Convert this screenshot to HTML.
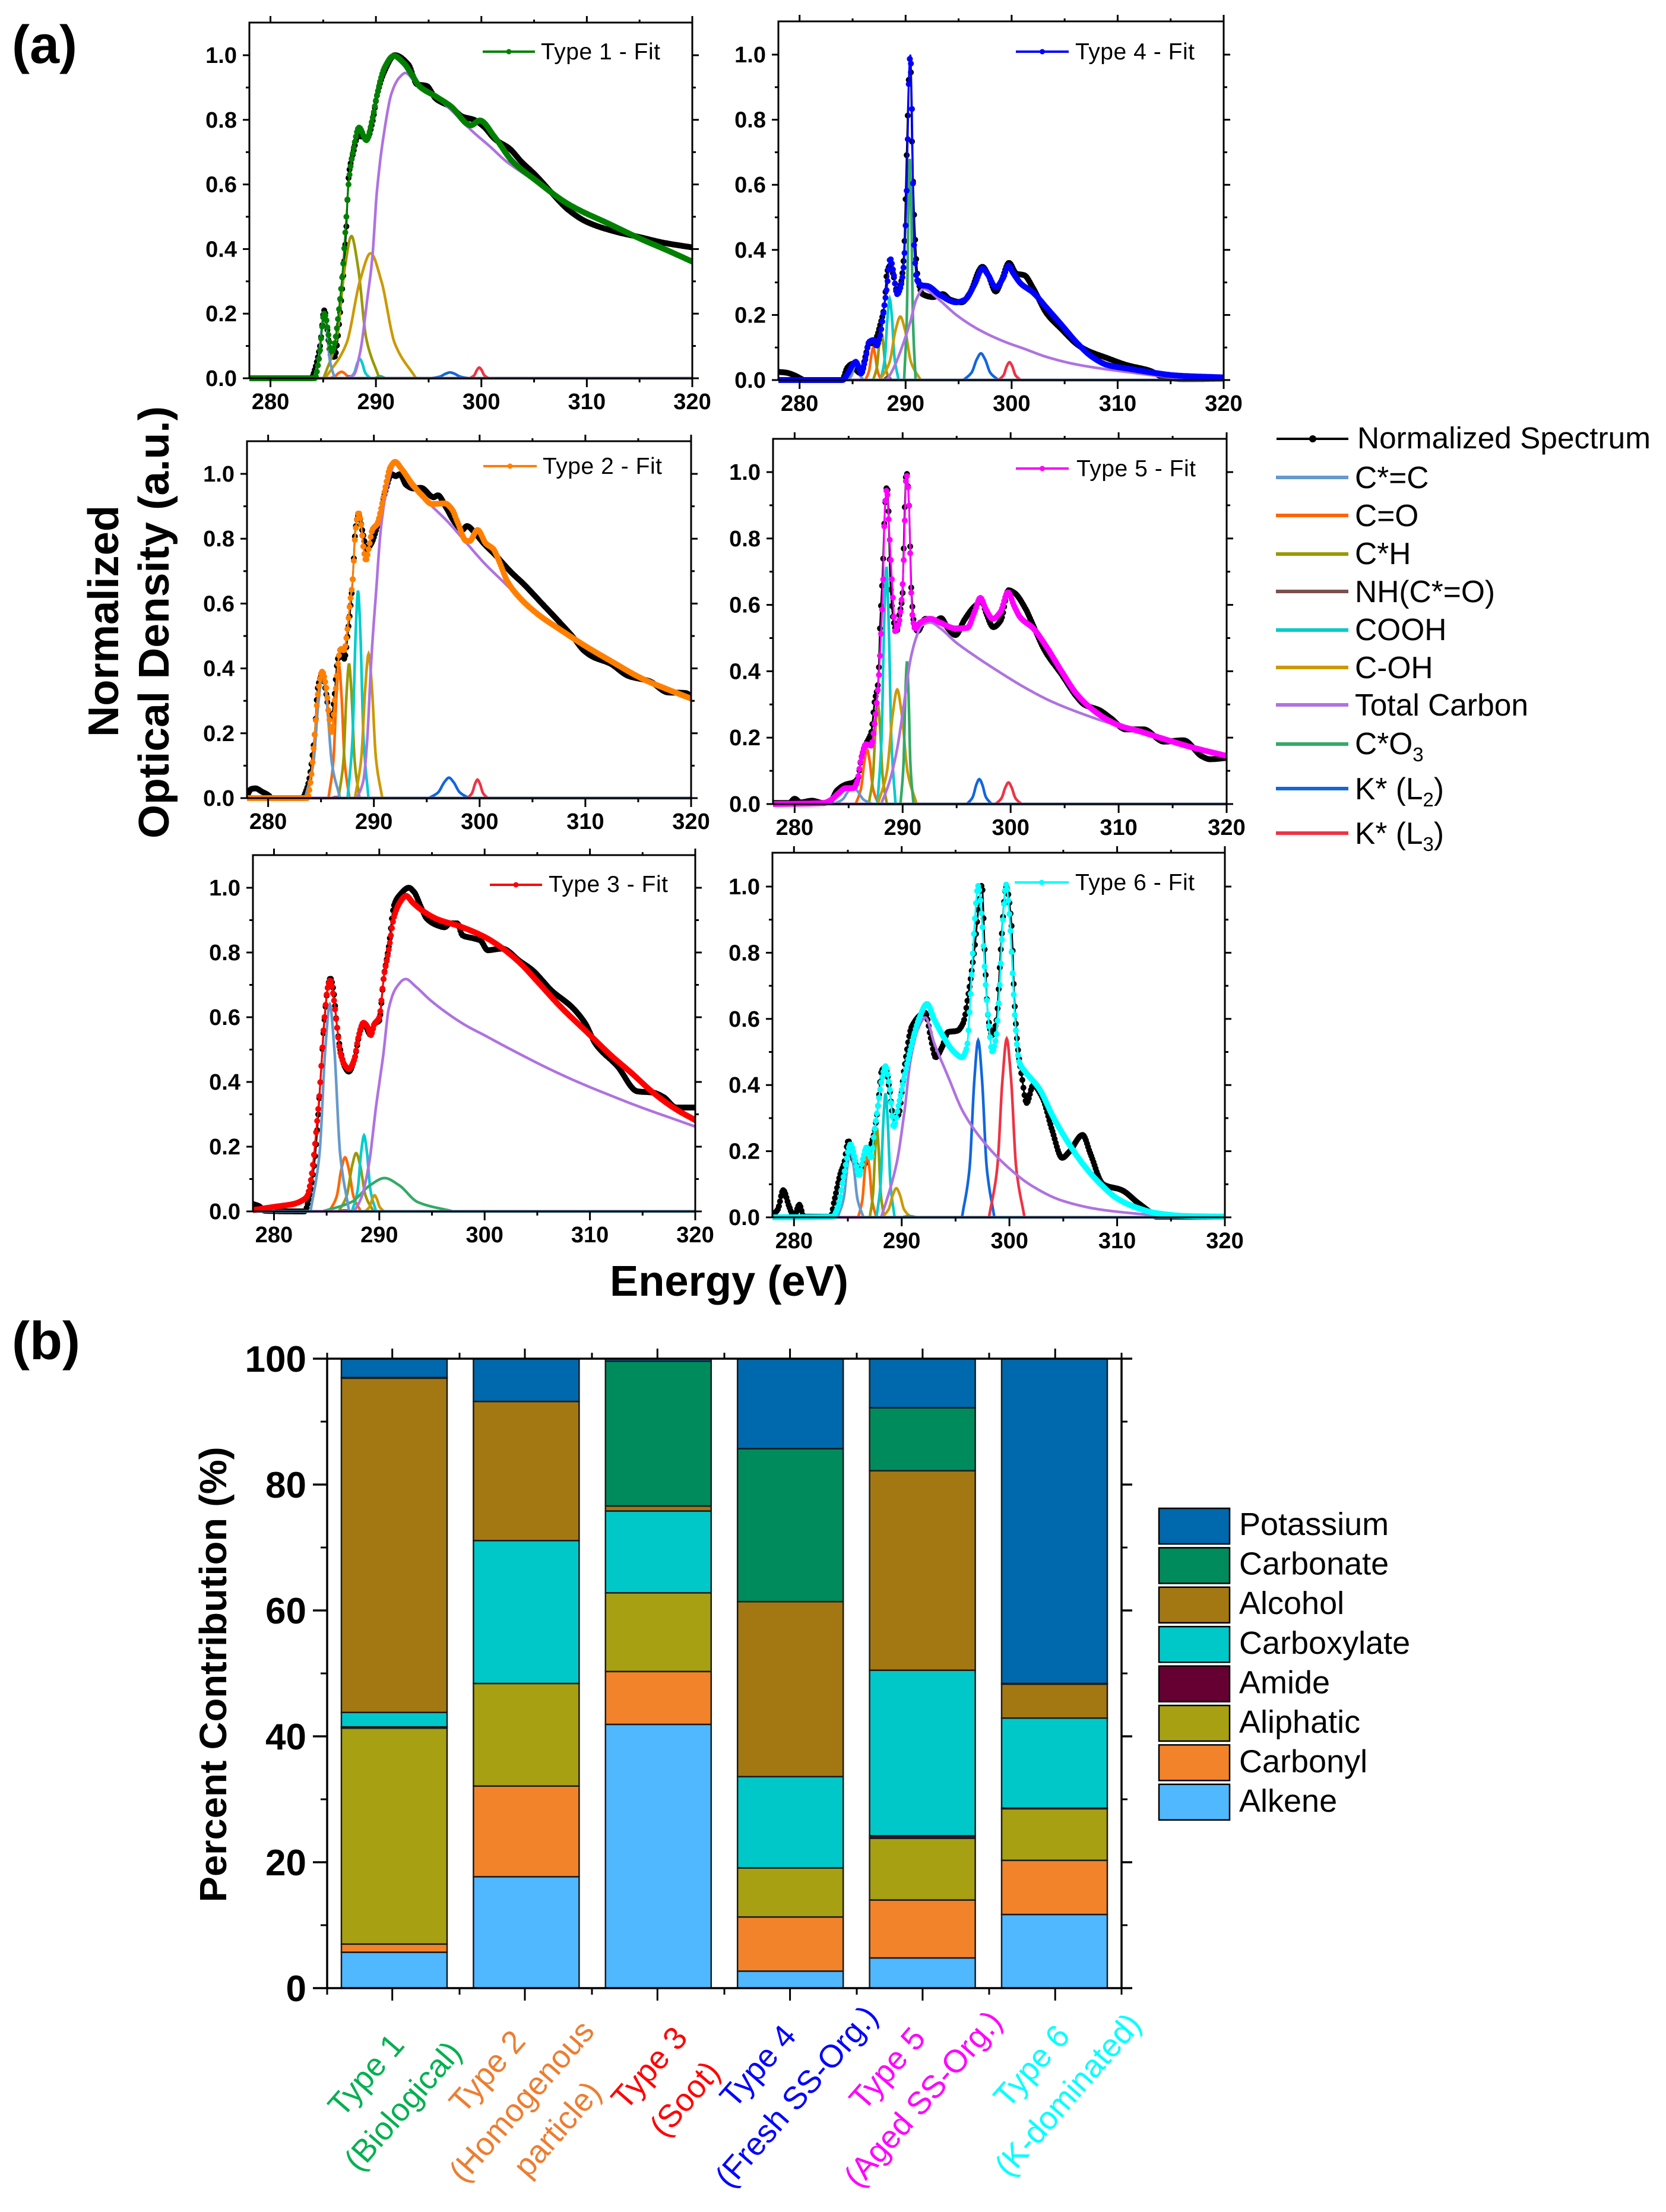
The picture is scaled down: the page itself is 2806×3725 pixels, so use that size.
<!DOCTYPE html>
<html lang="en">
<head>
<meta charset="utf-8">
<title>Spectra fits and percent contribution by particle type</title>
<style>
html,body{margin:0;padding:0;background:#fff;}
svg{display:block;}
text{font-family:"Liberation Sans",sans-serif;fill:#000;}
</style>
</head>
<body>
<svg id="figure" xmlns="http://www.w3.org/2000/svg" width="2806" height="3725" viewBox="0 0 2806 3725">
<rect x="0" y="0" width="2806" height="3725" fill="#fff"/>
<text x="20" y="106" font-size="90" font-weight="bold">(a)</text>
<text x="20" y="2289" font-size="90" font-weight="bold">(b)</text>
<text transform="translate(199 1046) rotate(-90)" text-anchor="middle" font-size="72" font-weight="bold" textLength="390" lengthAdjust="spacingAndGlyphs">Normalized</text>
<text transform="translate(284 1048) rotate(-90)" text-anchor="middle" font-size="72" font-weight="bold" textLength="728" lengthAdjust="spacingAndGlyphs">Optical Density (a.u.)</text>
<text x="1228" y="2182" text-anchor="middle" font-size="72" font-weight="bold" textLength="402" lengthAdjust="spacingAndGlyphs">Energy (eV)</text>
<text transform="translate(381 2820) rotate(-90)" text-anchor="middle" font-size="64" font-weight="bold" textLength="767" lengthAdjust="spacingAndGlyphs">Percent Contribution (%)</text>

<g font-size="51.5">
  <g><line x1="2150" x2="2271" y1="739" y2="739" stroke="#000" stroke-width="4"/><circle cx="2211" cy="739" r="6" fill="#000"/><text x="2286" y="755" font-size="51" textLength="494" lengthAdjust="spacingAndGlyphs">Normalized Spectrum</text></g>
  <g><line x1="2149" x2="2271" y1="804" y2="804" stroke="#6699CC" stroke-width="6"/><text x="2282" y="822">C*=C</text></g>
  <g><line x1="2149" x2="2271" y1="868" y2="868" stroke="#FF6600" stroke-width="6"/><text x="2282" y="886">C=O</text></g>
  <g><line x1="2149" x2="2271" y1="933" y2="933" stroke="#999900" stroke-width="6"/><text x="2282" y="950">C*H</text></g>
  <g><line x1="2149" x2="2271" y1="996" y2="996" stroke="#7B4F4F" stroke-width="6"/><text x="2282" y="1014">NH(C*=O)</text></g>
  <g><line x1="2149" x2="2271" y1="1061" y2="1061" stroke="#00CCCC" stroke-width="6"/><text x="2282" y="1078">COOH</text></g>
  <g><line x1="2149" x2="2271" y1="1124" y2="1124" stroke="#CC9900" stroke-width="6"/><text x="2282" y="1142">C-OH</text></g>
  <g><line x1="2149" x2="2271" y1="1187" y2="1187" stroke="#AF72E0" stroke-width="6"/><text x="2282" y="1205">Total Carbon</text></g>
  <g><line x1="2149" x2="2271" y1="1253" y2="1253" stroke="#33AA66" stroke-width="6"/><text x="2282" y="1270">C*O<tspan font-size="33" dy="12">3</tspan></text></g>
  <g><line x1="2149" x2="2271" y1="1328" y2="1328" stroke="#1166DD" stroke-width="6"/><text x="2282" y="1346">K* (L<tspan font-size="33" dy="12">2</tspan><tspan dy="-12">)</tspan></text></g>
  <g><line x1="2149" x2="2271" y1="1403" y2="1403" stroke="#EE3344" stroke-width="6"/><text x="2282" y="1421">K* (L<tspan font-size="33" dy="12">3</tspan><tspan dy="-12">)</tspan></text></g>
</g>
<g id="panels"></g>
<g id="bars"></g>
</svg>

<script>
/* ---------- Panel (a) axis labels ---------- */
const energyMajorTicks = [280, 290, 300, 310, 320];
const energyMinorTicks = [285, 295, 305, 315];
const densityMajorTicks = [0, 0.2, 0.4, 0.6, 0.8, 1.0];
const densityMinorTicks = [0.1, 0.3, 0.5, 0.7, 0.9];
const energyDomain = [278, 320];

/* ---------- Type 1 ---------- */
const type1Fit = [[278,0],[284.2,0],[284.6,.06],[285.1,.2],[285.84,.083],[286.7,.277],[287.2,.5],[287.4,.6],[287.86,.707],[288.4,.776],[289.1,.737],[289.65,.8],[290.1,.876],[290.8,.96],[291.7,.998],[292.6,.977],[293.5,.935],[294.1,.905],[295.7,.872],[297.1,.842],[299,.783],[299.85,.798],[301.3,.745],[302.9,.673],[305.1,.614],[308.3,.538],[312.3,.475],[315,.433],[317.7,.395],[320,.361]];
const type1Spectrum = [[278,0],[283.9,0],[284.04,.01],[284.7,.1],[285.1,.21],[285.75,.07],[286.06,.066],[286.7,.24],[287.2,.47],[287.4,.62],[287.86,.7],[288.3,.75],[289.2,.745],[289.65,.79],[290.1,.875],[290.8,.95],[291.8,1],[293.1,.97],[293.9,.91],[294.8,.905],[295.7,.865],[297.1,.84],[298.2,.81],[299.3,.8],[300.2,.78],[301.3,.74],[302.7,.71],[303.8,.67],[305.1,.63],[306.5,.58],[308.3,.52],[310,.484],[312.7,.454],[315,.437],[317.2,.42],[320,.405]];
const type1TotalCarbon = [[287.2,0],[287.9,.01],[288.5,.08],[289.2,.25],[289.65,.37],[290.1,.58],[290.8,.766],[291.5,.884],[292.2,.93],[292.8,.945],[293.7,.918],[295.5,.876],[297.3,.825],[299.1,.766],[300.9,.715],[302.3,.673],[305.1,.61],[308.3,.535],[312.3,.473],[315,.431],[317.7,.393],[320,.36]];
const type1Alkene = [[284.11,0],[284.57,.056],[284.87,.157],[285.1,.2],[285.33,.157],[285.63,.056],[286.09,0]];
const type1Carbonyl = [[285.6,0],[286.12,.006],[286.46,.016],[286.73,.02],[287,.016],[287.34,.006],[287.86,0]];
const type1Aliphatic = [[285.04,0],[286.27,.122],[287.06,.345],[287.68,.44],[288.3,.345],[289.09,.122],[290.32,0]];
const type1Amide = [[287.2,0],[287.5,.006],[287.8,0]];
const type1Carboxyl = [[287.48,0],[287.95,.017],[288.24,.047],[288.47,.06],[288.7,.047],[288.99,.017],[289.46,0]];
const type1Alcohol = [[285.2,0],[287.21,.108],[288.5,.303],[289.5,.387],[290.5,.303],[291.79,.108],[293.8,0]];
const type1Carbonate = [[289.9,0],[290.4,.006],[290.9,0]];
const type1PotassiumL2 = [[295.25,0],[296.07,.005],[296.61,.014],[297.03,.018],[297.45,.014],[297.99,.005],[298.81,0]];
const type1PotassiumL3 = [[298.9,0],[299.32,.009],[299.59,.026],[299.8,.033],[300.01,.026],[300.28,.009],[300.7,0]];

/* ---------- Type 2 ---------- */
const type2Fit = [[278,0],[283.7,0],[284.05,.06],[284.4,.196],[284.7,.32],[285.1,.39],[285.5,.34],[285.75,.255],[286,.204],[286.35,.32],[286.7,.44],[286.85,.46],[287.2,.457],[287.45,.507],[287.7,.59],[288,.675],[288.25,.818],[288.55,.88],[288.8,.843],[289,.776],[289.25,.734],[289.5,.768],[289.85,.827],[290.35,.848],[290.7,.894],[291,.944],[291.55,1.02],[292,1.037],[292.6,1.016],[293.6,.97],[294.6,.932],[295.5,.907],[296.7,.909],[297.4,.89],[297.9,.852],[298.75,.793],[299.05,.793],[299.8,.827],[300.6,.785],[301.3,.768],[301.8,.734],[302.65,.667],[303.85,.616],[305.55,.566],[307.6,.52],[310,.469],[312.4,.423],[315.4,.368],[317.8,.335],[320,.307]];
const type2Spectrum = [[278,.007],[278.4,.028],[278.8,.03],[279.4,.02],[280.1,.007],[280.3,0],[283.3,0],[283.4,.007],[283.8,.045],[284.4,.196],[284.7,.34],[285.1,.38],[285.5,.32],[285.75,.263],[286,.246],[286.25,.305],[286.6,.43],[286.95,.44],[287.2,.43],[287.6,.53],[288,.675],[288.25,.827],[288.55,.873],[289,.81],[289.3,.768],[289.75,.785],[290.35,.843],[291,.936],[291.7,.999],[292.05,.993],[292.45,.999],[293.05,.966],[293.75,.955],[294.45,.957],[295.65,.928],[296.05,.934],[296.8,.898],[297.7,.848],[298.35,.827],[298.8,.839],[299.55,.818],[300.4,.785],[301.45,.751],[303,.696],[304.2,.659],[305.9,.6],[307.6,.541],[309,.49],[309.8,.457],[310.7,.436],[312.35,.415],[314.05,.377],[316.1,.36],[317.8,.326],[319.5,.324],[320,.314]];
const type2TotalCarbon = [[288.4,0],[289,.053],[289.35,.17],[289.75,.423],[290.2,.633],[290.7,.843],[291.2,.95],[292,1.03],[293.6,.96],[294.6,.93],[295.5,.9],[297,.852],[298.7,.789],[300.4,.726],[302.65,.654],[303.85,.614],[305.55,.564],[307.6,.518],[310,.467],[312.4,.421],[315.4,.366],[317.8,.333],[320,.305]];
const type2Alkene = [[283.5,0],[284.27,.107],[284.77,.301],[285.15,.385],[285.54,.301],[286.03,.107],[286.8,0]];
const type2Carbonyl = [[285.71,0],[286.17,.114],[286.47,.321],[286.7,.41],[286.93,.321],[287.23,.114],[287.69,0]];
const type2Aliphatic = [[286.66,0],[287.12,.115],[287.42,.325],[287.65,.415],[287.88,.325],[288.18,.115],[288.64,0]];
const type2Amide = [[286,0],[286.4,.003],[286.8,0]];
const type2Carboxyl = [[287.51,0],[287.97,.178],[288.27,.501],[288.5,.64],[288.73,.501],[289.03,.178],[289.49,0]];
const type2Alcohol = [[288.21,0],[288.81,.124],[289.2,.348],[289.5,.445],[289.8,.348],[290.19,.124],[290.79,0]];
const type2PotassiumL2 = [[295.21,0],[296.09,.018],[296.66,.049],[297.1,.063],[297.54,.049],[298.11,.018],[298.99,0]];
const type2PotassiumL3 = [[298.84,0],[299.29,.016],[299.58,.045],[299.8,.057],[300.02,.045],[300.31,.016],[300.76,0]];

/* ---------- Type 3 ---------- */
const type3Fit = [[278,.004],[280,.014],[281.85,.023],[282.7,.034],[283.15,.047],[283.55,.107],[284.05,.262],[284.4,.399],[284.75,.581],[285.1,.691],[285.35,.714],[285.65,.663],[285.95,.581],[286.3,.49],[286.7,.453],[287.1,.44],[287.65,.472],[288,.536],[288.5,.583],[288.85,.572],[289.2,.545],[289.5,.577],[290,.6],[290.4,.718],[290.9,.809],[291.4,.91],[291.95,.955],[292.55,.975],[293.15,.955],[294.15,.928],[295.5,.903],[297.55,.882],[300,.848],[301.65,.814],[303.35,.768],[305.05,.709],[307.1,.636],[310,.545],[311.9,.485],[314,.426],[316,.367],[318.1,.317],[320,.282]];
const type3Spectrum = [[278,.023],[278.6,.016],[279.1,.002],[282.9,0],[283.4,.052],[283.9,.171],[284.4,.399],[284.75,.572],[285.1,.691],[285.35,.72],[285.65,.682],[285.95,.581],[286.3,.499],[286.7,.449],[287.1,.432],[287.65,.472],[288.15,.554],[288.5,.581],[289.2,.545],[289.55,.58],[290,.59],[290.4,.718],[290.9,.818],[291.4,.946],[291.95,.978],[292.8,1],[293.3,.987],[294,.937],[294.5,.905],[295.5,.884],[296.2,.878],[296.7,.89],[297.4,.89],[297.9,.853],[298.9,.844],[299.6,.837],[300.3,.807],[301.65,.812],[303.35,.773],[304.55,.745],[306.4,.681],[308.3,.631],[309.55,.581],[310.55,.517],[312.6,.449],[314.5,.371],[316,.367],[317,.353],[318.2,.321],[320,.321]];
const type3TotalCarbon = [[287.65,.002],[288.3,.043],[289,.143],[289.7,.326],[290.4,.49],[290.9,.627],[291.6,.691],[292.5,.718],[293.45,.695],[294.8,.654],[296.55,.61],[298.25,.574],[300,.544],[301.65,.515],[303.35,.486],[305.4,.452],[307.8,.415],[310,.384],[311.9,.359],[314,.332],[316,.308],[318.1,.284],[320,.262]];
const type3Alkene = [[283.47,0],[284.32,.178],[284.87,.501],[285.3,.64],[285.73,.501],[286.28,.178],[287.13,0]];
const type3Carbonyl = [[285.25,0],[285.95,.046],[286.4,.131],[286.75,.167],[287.1,.131],[287.55,.046],[288.25,0]];
const type3Aliphatic = [[286.15,0],[286.92,.05],[287.42,.141],[287.8,.18],[288.19,.141],[288.68,.05],[289.45,0]];
const type3Amide = [[286,0],[286.7,.003],[287.5,0]];
const type3Carboxyl = [[287.41,0],[287.94,.065],[288.28,.184],[288.55,.235],[288.82,.184],[289.16,.065],[289.69,0]];
const type3Alcohol = [[288.65,0],[289.07,.014],[289.34,.039],[289.55,.05],[289.76,.039],[290.03,.014],[290.45,0]];
const type3Carbonate = [[284.6,0],[287.36,.029],[289.13,.081],[290.5,.103],[291.87,.081],[293.64,.029],[297,0]];

/* ---------- Type 4 ---------- */
const type4Fit = [[278,0],[284.05,0],[284.55,.02],[285,.046],[285.3,.056],[285.55,.042],[285.8,.02],[286.2,.063],[286.55,.117],[287,.123],[287.25,.105],[287.55,.13],[288,.23],[288.25,.289],[288.55,.373],[288.85,.331],[289.2,.264],[289.55,.289],[289.85,.364],[290.1,.582],[290.35,.959],[290.45,1],[290.6,.833],[290.8,.415],[291.1,.306],[291.55,.291],[292.05,.289],[293.3,.26],[294.75,.239],[295.6,.247],[296.55,.297],[297.25,.343],[297.8,.322],[298.5,.285],[299.2,.314],[299.7,.352],[300.1,.331],[300.85,.297],[302.05,.268],[303.3,.222],[304.75,.168],[306.2,.113],[307.6,.071],[309.05,.046],[311.2,.034],[313.3,.023],[315.5,.014],[320,.008]];
const type4Spectrum = [[278,.025],[278.7,.023],[279.55,.014],[280.2,.003],[280.4,0],[284,0],[284.5,.038],[285,.05],[285.4,.029],[285.8,.02],[286.2,.071],[286.55,.113],[287,.113],[287.25,.13],[287.55,.163],[288,.23],[288.25,.331],[288.55,.352],[288.85,.322],[289.2,.272],[289.55,.297],[289.85,.389],[290.1,.691],[290.35,.959],[290.45,1],[290.6,.733],[290.9,.431],[291.15,.314],[291.6,.264],[292.6,.255],[293.5,.264],[294.2,.247],[295.3,.239],[296,.264],[297.25,.348],[297.8,.322],[298.5,.272],[299.05,.306],[299.75,.36],[300.45,.327],[301.2,.322],[302.05,.281],[303.3,.205],[304.75,.155],[306.2,.109],[307.05,.092],[309.05,.067],[310.85,.046],[313,.029],[314.4,.008],[316.2,.003],[320,.004]];
const type4TotalCarbon = [[288.3,.002],[289,.046],[289.7,.105],[290.45,.18],[291,.247],[291.7,.281],[292.25,.272],[293.3,.243],[294.75,.201],[296.9,.155],[299.4,.117],[301.2,.096],[303.3,.071],[305.8,.05],[308.3,.036],[310.85,.025],[315.5,.008],[320,.002]];
const type4Alkene = [[284.55,0],[284.9,.014],[285.13,.039],[285.3,.05],[285.47,.039],[285.7,.014],[286.05,0]];
const type4Carbonyl = [[286.2,0],[286.55,.028],[286.78,.078],[286.95,.1],[287.12,.078],[287.35,.028],[287.7,0]];
const type4Aliphatic = [[286.95,0],[287.3,.042],[287.53,.117],[287.7,.15],[287.87,.117],[288.1,.042],[288.45,0]];
const type4Amide = [[287.9,0],[288.3,.01],[288.7,0]];
const type4Carboxyl = [[287.66,0],[288.05,.07],[288.3,.196],[288.5,.25],[288.7,.196],[288.95,.07],[289.34,0]];
const type4Alcohol = [[287.58,0],[288.48,.054],[289.05,.153],[289.5,.195],[289.95,.153],[290.52,.054],[291.42,0]];
const type4Carbonate = [[289.86,0],[290.11,.189],[290.27,.532],[290.4,.68],[290.53,.532],[290.69,.189],[290.94,0]];
const type4PotassiumL2 = [[295.45,0],[296.22,.023],[296.72,.064],[297.1,.082],[297.49,.064],[297.98,.023],[298.75,0]];
const type4PotassiumL3 = [[298.75,0],[299.24,.015],[299.55,.043],[299.8,.055],[300.05,.043],[300.36,.015],[300.85,0]];

/* ---------- Type 5 ---------- */
const type5Fit = [[278,0],[282.65,.003],[283.35,.012],[284.05,.032],[284.75,.048],[285.45,.048],[285.8,.069],[286.15,.135],[286.6,.18],[287.1,.176],[287.4,.242],[287.75,.365],[288,.513],[288.2,.677],[288.35,.891],[288.55,.948],[288.7,.858],[288.9,.735],[289.15,.595],[289.3,.521],[289.65,.546],[289.95,.636],[290.1,.735],[290.35,.993],[290.6,.899],[290.75,.685],[290.9,.57],[291.15,.529],[291.6,.546],[292.55,.558],[293.5,.546],[294.9,.529],[296,.531],[296.65,.578],[297.2,.621],[297.7,.587],[298.35,.558],[299.05,.578],[299.75,.638],[300.35,.595],[300.9,.562],[302.1,.529],[303.35,.472],[304.75,.398],[306.1,.332],[307.35,.291],[308.95,.254],[310.35,.233],[311.75,.221],[314.2,.196],[316.65,.172],[320,.145]];
const type5Spectrum = [[278,.003],[279.5,.003],[280,.016],[280.55,.005],[281.6,.01],[282.65,.003],[283.35,.01],[283.9,.04],[284.75,.059],[285.45,.065],[285.85,.077],[286.2,.143],[286.6,.18],[287.1,.217],[287.4,.307],[287.75,.373],[287.9,.529],[288.15,.693],[288.35,.882],[288.55,.958],[288.7,.882],[288.85,.677],[289.15,.554],[289.45,.521],[289.7,.57],[290,.636],[290.15,.841],[290.35,1],[290.6,.899],[290.8,.652],[291.05,.546],[291.4,.521],[292.1,.558],[293,.55],[293.55,.56],[294.2,.529],[294.9,.509],[295.7,.554],[296.65,.595],[297.35,.611],[297.7,.578],[298.4,.533],[299.1,.554],[299.8,.644],[300.35,.636],[301.4,.587],[302.1,.537],[303.15,.463],[304.75,.389],[306.1,.324],[306.85,.299],[308.2,.283],[309.3,.258],[310.65,.225],[312.3,.225],[314.2,.188],[316,.192],[317.75,.143],[318.45,.135],[320,.139]];
const type5TotalCarbon = [[288.05,.003],[288.8,.069],[289.5,.168],[290.15,.307],[290.7,.431],[291.2,.496],[291.75,.537],[292.55,.547],[293.5,.529],[294.9,.488],[296.65,.447],[298.75,.402],[301.2,.353],[303.65,.311],[306.45,.274],[308.95,.246],[310.35,.233],[311.75,.22],[314.2,.195],[316.65,.171],[320,.143]];
const type5Alkene = [[283.6,0],[284.44,.014],[284.98,.039],[285.4,.05],[285.82,.039],[286.36,.014],[287.2,0]];
const type5Carbonyl = [[285.65,0],[286.14,.046],[286.46,.129],[286.7,.165],[286.95,.129],[287.26,.046],[287.75,0]];
const type5Aliphatic = [[286.86,0],[287.25,.083],[287.5,.235],[287.7,.3],[287.9,.235],[288.15,.083],[288.54,0]];
const type5Carboxyl = [[287.66,0],[288.05,.199],[288.3,.56],[288.5,.715],[288.7,.56],[288.95,.199],[289.34,0]];
const type5Alcohol = [[287.7,0],[288.54,.096],[289.08,.27],[289.5,.345],[289.92,.27],[290.46,.096],[291.3,0]];
const type5Carbonate = [[289.8,0],[290.08,.12],[290.26,.337],[290.4,.43],[290.54,.337],[290.72,.12],[291,0]];
const type5PotassiumL2 = [[295.96,0],[296.49,.021],[296.83,.059],[297.1,.075],[297.37,.059],[297.71,.021],[298.24,0]];
const type5PotassiumL3 = [[298.6,0],[299.16,.018],[299.52,.051],[299.8,.065],[300.08,.051],[300.44,.018],[301,0]];

/* ---------- Type 6 ---------- */
const type6Fit = [[278,0],[283.6,.002],[284.1,.033],[284.65,.131],[285.25,.221],[285.6,.185],[286.05,.127],[286.4,.176],[286.75,.212],[287.15,.18],[287.45,.256],[287.8,.337],[288.15,.417],[288.5,.457],[288.85,.399],[289.25,.274],[289.7,.337],[290.25,.426],[290.8,.506],[291.65,.604],[292.35,.645],[293.05,.596],[293.95,.542],[294.8,.502],[295.6,.484],[296.05,.515],[296.4,.676],[296.75,.881],[297.1,1.002],[297.45,.899],[297.8,.703],[298.1,.578],[298.4,.502],[298.75,.542],[299.1,.703],[299.4,.899],[299.7,1.006],[300,.917],[300.3,.738],[300.55,.587],[300.9,.471],[301.5,.439],[302.75,.39],[304.1,.301],[305.55,.221],[306.9,.158],[308.35,.104],[310.1,.055],[311.85,.029],[313.6,.013],[316.4,.004],[320,.002]];
const type6Spectrum = [[278,.005],[278.15,.011],[278.5,.024],[279,.082],[279.55,.033],[280,.002],[280.5,.038],[280.9,.002],[283.4,.002],[283.75,.051],[284.3,.131],[284.65,.163],[285.05,.231],[285.5,.176],[286.05,.149],[286.5,.158],[286.9,.194],[287.45,.256],[287.8,.337],[288.15,.444],[288.5,.453],[288.85,.39],[289.25,.301],[289.7,.31],[290.25,.453],[290.95,.578],[292.2,.618],[292.7,.542],[293.15,.484],[293.75,.515],[294.3,.56],[295.15,.564],[295.7,.587],[296.2,.676],[296.75,.81],[297.45,1.004],[297.7,.81],[298,.613],[298.4,.551],[298.8,.596],[299.2,.81],[299.7,.999],[300.2,.881],[300.45,.667],[300.8,.506],[301.15,.426],[301.6,.346],[302.2,.399],[303.05,.363],[303.95,.265],[304.9,.18],[305.55,.198],[306.8,.249],[307.5,.194],[308.7,.1],[310.45,.082],[311.85,.046],[313.25,.011],[313.6,.002],[320,.002]];
const type6TotalCarbon = [[288.15,.006],[288.85,.078],[289.55,.167],[290.25,.319],[290.8,.471],[291.5,.569],[292.2,.604],[293.05,.524],[294.3,.426],[295.7,.319],[297.8,.221],[299.95,.149],[302.05,.096],[304.85,.051],[308.35,.024],[311.85,.011],[315.35,.002]];
const type6Alkene = [[284.05,0],[284.61,.056],[284.97,.157],[285.25,.2],[285.53,.157],[285.89,.056],[286.45,0]];
const type6Carbonyl = [[285.96,0],[286.35,.053],[286.6,.149],[286.8,.19],[287,.149],[287.25,.053],[287.64,0]];
const type6Aliphatic = [[287.04,0],[287.35,.075],[287.55,.211],[287.7,.27],[287.85,.211],[288.05,.075],[288.36,0]];
const type6Carboxyl = [[287.66,0],[288.05,.104],[288.3,.294],[288.5,.375],[288.7,.294],[288.95,.104],[289.34,0]];
const type6Alcohol = [[288.15,0],[288.78,.024],[289.19,.069],[289.5,.088],[289.82,.069],[290.22,.024],[290.85,0]];
const type6Carbonate = [[290,0],[290.7,.004],[291.4,0]];
const type6PotassiumL2 = [[295.6,0],[296.3,.149],[296.75,.419],[297.1,.535],[297.45,.419],[297.9,.149],[298.6,0]];
const type6PotassiumL3 = [[298.1,0],[298.87,.15],[299.37,.423],[299.75,.54],[300.14,.423],[300.63,.15],[301.4,0]];

/* ---------- Panel (b) data ---------- */
const barCategories = ['Type 1','Type 2','Type 3','Type 4','Type 5','Type 6'];
const alkeneShare = [5.7,17.7,41.9,2.7,4.8,11.7];
const carbonylShare = [1.3,14.4,8.4,8.6,9.2,8.6];
const aliphaticShare = [34.3,16.3,12.5,7.8,9.8,8.2];
const amideShare = [0.2,0,0,0,0.4,0.1];
const carboxylateShare = [2.3,22.7,13,14.5,26.3,14.3];
const alcoholShare = [53.1,22.1,0.8,27.8,31.7,5.4];
const carbonateShare = [0.1,0,23,24.3,10,0.1];
const potassiumShare = [3,6.8,0.4,14.3,7.8,51.6];
const percentMajorTicks = [0,20,40,60,80,100];
const percentMinorTicks = [10,30,50,70,90];

/* ---------- Layout and styling (not data) ---------- */
const NS = 'http://www.w3.org/2000/svg';
const panelBoxes = [
  {left:420,right:1166,top:38,y0:637,y1:93,lx1:813,lx2:901,ly:87,tx:911,ty:100},
  {left:416,right:1164,top:743,y0:1344,y1:798,lx1:814,lx2:904,ly:785,tx:914,ty:798},
  {left:426,right:1171,top:1440,y0:2040,y1:1495,lx1:825,lx2:913,ly:1490,tx:924,ty:1502},
  {left:1311,right:2061,top:36,y0:640,y1:92,lx1:1711,lx2:1800,ly:87,tx:1811,ty:100},
  {left:1302,right:2066,top:739,y0:1354,y1:795,lx1:1711,lx2:1800,ly:789,tx:1813,ty:802},
  {left:1301,right:2063,top:1436,y0:2050,y1:1493,lx1:1709,lx2:1800,ly:1486,tx:1811,ty:1499}
];
const fitColors = ['#008000','#FF8000','#FF0000','#0000FF','#FF00FF','#00FFFF'];
const fitTitles = ['Type 1 - Fit','Type 2 - Fit','Type 3 - Fit','Type 4 - Fit','Type 5 - Fit','Type 6 - Fit'];
const peakStyles = {
  carbonyl:{color:'#FF6600'}, aliphatic:{color:'#999900'}, amide:{color:'#7B4F4F'},
  carboxyl:{color:'#00CCCC'}, alcohol:{color:'#CC9900'}, carbonate:{color:'#33AA66'},
  potassiumL2:{color:'#1166DD'}, potassiumL3:{color:'#EE3344'}, totalCarbon:{color:'#AF72E0'}, alkene:{color:'#6699CC'}
};
const panelSeries = [
  {fit:type1Fit,spectrum:type1Spectrum,peaks:{carbonyl:type1Carbonyl,aliphatic:type1Aliphatic,amide:type1Amide,carboxyl:type1Carboxyl,alcohol:type1Alcohol,carbonate:type1Carbonate,potassiumL2:type1PotassiumL2,potassiumL3:type1PotassiumL3,totalCarbon:type1TotalCarbon,alkene:type1Alkene}},
  {fit:type2Fit,spectrum:type2Spectrum,peaks:{carbonyl:type2Carbonyl,aliphatic:type2Aliphatic,amide:type2Amide,carboxyl:type2Carboxyl,alcohol:type2Alcohol,potassiumL2:type2PotassiumL2,potassiumL3:type2PotassiumL3,totalCarbon:type2TotalCarbon,alkene:type2Alkene}},
  {fit:type3Fit,spectrum:type3Spectrum,peaks:{carbonyl:type3Carbonyl,aliphatic:type3Aliphatic,amide:type3Amide,carboxyl:type3Carboxyl,alcohol:type3Alcohol,carbonate:type3Carbonate,totalCarbon:type3TotalCarbon,alkene:type3Alkene}},
  {fit:type4Fit,spectrum:type4Spectrum,peaks:{carbonyl:type4Carbonyl,aliphatic:type4Aliphatic,amide:type4Amide,carboxyl:type4Carboxyl,alcohol:type4Alcohol,carbonate:type4Carbonate,potassiumL2:type4PotassiumL2,potassiumL3:type4PotassiumL3,totalCarbon:type4TotalCarbon,alkene:type4Alkene}},
  {fit:type5Fit,spectrum:type5Spectrum,peaks:{carbonyl:type5Carbonyl,aliphatic:type5Aliphatic,carboxyl:type5Carboxyl,alcohol:type5Alcohol,carbonate:type5Carbonate,potassiumL2:type5PotassiumL2,potassiumL3:type5PotassiumL3,totalCarbon:type5TotalCarbon,alkene:type5Alkene}},
  {fit:type6Fit,spectrum:type6Spectrum,peaks:{carbonyl:type6Carbonyl,aliphatic:type6Aliphatic,carboxyl:type6Carboxyl,alcohol:type6Alcohol,carbonate:type6Carbonate,potassiumL2:type6PotassiumL2,potassiumL3:type6PotassiumL3,totalCarbon:type6TotalCarbon,alkene:type6Alkene}}
];

function mk(tag, attrs, parent){
  const el = document.createElementNS(NS, tag);
  for (const k in attrs) el.setAttribute(k, attrs[k]);
  parent.appendChild(el);
  return el;
}

/* Monotone cubic curve through a series' points, for drawing the trace between read values */
function curveThrough(pts){
  const n = pts.length, h = [], d = [], m = [];
  for (let i = 0; i < n - 1; i++){
    h[i] = pts[i+1][0] - pts[i][0];
    d[i] = (pts[i+1][1] - pts[i][1]) / h[i];
  }
  m[0] = d[0]; m[n-1] = d[n-2];
  for (let i = 1; i < n - 1; i++){
    if (d[i-1] * d[i] <= 0) m[i] = 0;
    else { const w1 = 2*h[i] + h[i-1], w2 = h[i] + 2*h[i-1]; m[i] = (w1 + w2) / (w1/d[i-1] + w2/d[i]); }
  }
  return function(x){
    if (x <= pts[0][0]) return x === pts[0][0] ? pts[0][1] : 0;
    if (x >= pts[n-1][0]) return x === pts[n-1][0] ? pts[n-1][1] : 0;
    let i = 0;
    while (i < n - 2 && x > pts[i+1][0]) i++;
    const t = (x - pts[i][0]) / h[i], t2 = t*t, t3 = t2*t;
    return (2*t3 - 3*t2 + 1)*pts[i][1] + (t3 - 2*t2 + t)*h[i]*m[i] + (-2*t3 + 3*t2)*pts[i+1][1] + (t3 - t2)*h[i]*m[i+1];
  };
}

function tracePath(pts, xs, ys, step){
  const f = curveThrough(pts);
  const grid = new Set(pts.map(p => p[0]));
  grid.add(energyDomain[0]); grid.add(energyDomain[1]);
  for (let i = 0; energyDomain[0] + i*step <= energyDomain[1] + 1e-9; i++) grid.add(+(energyDomain[0] + i*step).toFixed(3));
  const sorted = Array.from(grid).filter(x => x >= energyDomain[0] && x <= energyDomain[1]).sort((a,b) => a-b);
  return sorted.map((x,i) => (i ? 'L' : 'M') + xs(x).toFixed(1) + ' ' + ys(f(x)).toFixed(1)).join('');
}

function markerPath(pts, xs, ys){
  const f = curveThrough(pts);
  let out = '';
  for (let i = 0; energyDomain[0] + i*0.1 <= energyDomain[1] + 1e-9; i++){
    const x = energyDomain[0] + i*0.1;
    out += 'M' + xs(x).toFixed(1) + ' ' + ys(f(x)).toFixed(1) + 'h0.01';
  }
  return out;
}

function drawPanel(idx){
  const box = panelBoxes[idx], series = panelSeries[idx];
  const root = document.getElementById('panels');
  const xs = v => box.left + (v - energyDomain[0]) * (box.right - box.left) / (energyDomain[1] - energyDomain[0]);
  const ys = v => box.y0 - v * (box.y0 - box.y1);

  const g = mk('g', {}, root);
  
  

  const clip = mk('clipPath', {id:'clip' + idx}, g);
  mk('rect', {x:box.left, y:box.top - 10, width:box.right - box.left, height:box.y0 - box.top + 16}, clip);
  const plot = mk('g', {'clip-path':'url(#clip' + idx + ')'}, g);

  const specLine = mk('path', {d:tracePath(series.spectrum, xs, ys, 0.1), fill:'none', stroke:'#000', 'stroke-width':3}, plot);
  
  
  const specDots = mk('path', {d:markerPath(series.spectrum, xs, ys), fill:'none', stroke:'#000', 'stroke-width':10, 'stroke-linecap':'round'}, plot);
  
  

  for (const key in series.peaks){
    const peak = mk('path', {d:tracePath(series.peaks[key], xs, ys, 0.05), fill:'none', stroke:peakStyles[key].color, 'stroke-width':4.5}, plot);
    
    
  }

  const fitLine = mk('path', {d:tracePath(series.fit, xs, ys, 0.1), fill:'none', stroke:fitColors[idx], 'stroke-width':3}, plot);
  
  
  const fitDots = mk('path', {d:markerPath(series.fit, xs, ys), fill:'none', stroke:fitColors[idx], 'stroke-width':10, 'stroke-linecap':'round'}, plot);
  
  

  const frame = mk('rect', {x:box.left, y:box.top, width:box.right - box.left, height:box.y0 - box.top, fill:'none', stroke:'#000', 'stroke-width':3}, g);
  
  

  energyMajorTicks.forEach(v => {
    const b = mk('line', {x1:xs(v), x2:xs(v), y1:box.y0, y2:box.y0 + 15, stroke:'#000', 'stroke-width':3}, g);
    
    
    const t = mk('line', {x1:xs(v), x2:xs(v), y1:box.top, y2:box.top - 11, stroke:'#000', 'stroke-width':3}, g);
    
    
    const lab = mk('text', {x:xs(v), y:box.y0 + 52, 'text-anchor':'middle', 'font-size':38, 'font-weight':'bold'}, g);
    
    
    lab.textContent = String(v);
  });
  energyMinorTicks.forEach(v => {
    const b = mk('line', {x1:xs(v), x2:xs(v), y1:box.y0, y2:box.y0 + 7, stroke:'#000', 'stroke-width':3}, g);
    
    
    const t = mk('line', {x1:xs(v), x2:xs(v), y1:box.top, y2:box.top - 5, stroke:'#000', 'stroke-width':3}, g);
    
    
  });
  densityMajorTicks.forEach(v => {
    const l = mk('line', {x1:box.left - 11, x2:box.left, y1:ys(v), y2:ys(v), stroke:'#000', 'stroke-width':3}, g);
    
    
    const r = mk('line', {x1:box.right, x2:box.right + 11, y1:ys(v), y2:ys(v), stroke:'#000', 'stroke-width':3}, g);
    
    
    const lab = mk('text', {x:box.left - 21, y:ys(v) + 13, 'text-anchor':'end', 'font-size':38, 'font-weight':'bold'}, g);
    
    
    lab.textContent = v.toFixed(1);
  });
  densityMinorTicks.forEach(v => {
    const l = mk('line', {x1:box.left - 6, x2:box.left, y1:ys(v), y2:ys(v), stroke:'#000', 'stroke-width':3}, g);
    
    
    const r = mk('line', {x1:box.right, x2:box.right + 6, y1:ys(v), y2:ys(v), stroke:'#000', 'stroke-width':3}, g);
    
    
  });

  const legend = mk('g', {}, g);
  
  
  mk('line', {x1:box.lx1, x2:box.lx2, y1:box.ly, y2:box.ly, stroke:fitColors[idx], 'stroke-width':4}, legend);
  mk('circle', {cx:(box.lx1 + box.lx2)/2, cy:box.ly, r:4.5, fill:fitColors[idx]}, legend);
  const legText = mk('text', {x:box.tx, y:box.ty, 'font-size':39, textLength:201, lengthAdjust:'spacing'}, legend);
  legText.textContent = fitTitles[idx];
}
panelSeries.forEach((s, i) => drawPanel(i));

/* ---------- Stacked bars ---------- */
const barStack = [
  {name:'alkene',values:alkeneShare,color:'#4FB8FF'},
  {name:'carbonyl',values:carbonylShare,color:'#F2832A'},
  {name:'aliphatic',values:aliphaticShare,color:'#A7A012'},
  {name:'amide',values:amideShare,color:'#660033'},
  {name:'carboxylate',values:carboxylateShare,color:'#00C8C8'},
  {name:'alcohol',values:alcoholShare,color:'#A37813'},
  {name:'carbonate',values:carbonateShare,color:'#008B5C'},
  {name:'potassium',values:potassiumShare,color:'#0068AC'}
];
const legendOrder = [
  {label:'Potassium',color:'#0068AC'},{label:'Carbonate',color:'#008B5C'},{label:'Alcohol',color:'#A37813'},{label:'Carboxylate',color:'#00C8C8'},
  {label:'Amide',color:'#660033'},{label:'Aliphatic',color:'#A7A012'},{label:'Carbonyl',color:'#F2832A'},{label:'Alkene',color:'#4FB8FF'}
];
const categoryLabels = [
  {color:'#00B050',lines:[{t:'Type 1',x:616,y:3494},{t:'(Biological)',x:678,y:3546}]},
  {color:'#ED7D31',lines:[{t:'Type 2',x:820,y:3488},{t:'(Homogenous',x:878,y:3538},{t:'particle)',x:938,y:3585}]},
  {color:'#FF0000',lines:[{t:'Type 3',x:1093,y:3482},{t:'(Soot)',x:1153,y:3534}]},
  {color:'#0000FF',lines:[{t:'Type 4',x:1276,y:3479},{t:'(Fresh SS-Org.)',x:1341,y:3530}]},
  {color:'#FF00FF',lines:[{t:'Type 5',x:1494,y:3483},{t:'(Aged SS-Org.)',x:1554,y:3534}]},
  {color:'#00FFFF',lines:[{t:'Type 6',x:1737,y:3479},{t:'(K-dominated)',x:1798,y:3527}]}
];

function drawBars(){
  const root = document.getElementById('bars');
  const left = 551, right = 1889, top = 2288, bottom = 3348, barW = 178;
  const xCat = i => 660.7 + i * 223.3;
  const xBar = i => 664 + i * 222.4;
  const yPct = v => bottom - v * (bottom - top) / 100;

  barCategories.forEach((c, i) => {
    let acc = 0;
    barStack.forEach(s => {
      const v = s.values[i];
      if (v <= 0) return;
      const seg = mk('rect', {x:xBar(i) - barW/2, y:yPct(acc + v), width:barW, height:yPct(acc) - yPct(acc + v), fill:s.color, stroke:'#1a1a1a', 'stroke-width':2.5}, root);
      
      
      acc += v;
    });
  });

  const spines = [[left,top,left,bottom],[right,top,right,bottom],[left,top,right,top],[left,bottom,right,bottom]];
  spines.forEach(sp => {
    const l = mk('line', {x1:sp[0], y1:sp[1], x2:sp[2], y2:sp[3], stroke:'#000', 'stroke-width':3.5}, root);
    
    
  });

  percentMajorTicks.forEach(v => {
    const l = mk('line', {x1:left - 24, x2:left, y1:yPct(v), y2:yPct(v), stroke:'#000', 'stroke-width':3.5}, root);
    
    
    const r = mk('line', {x1:right, x2:right + 18, y1:yPct(v), y2:yPct(v), stroke:'#000', 'stroke-width':3.5}, root);
    
    
    const lab = mk('text', {x:516, y:yPct(v) + 22, 'text-anchor':'end', 'font-size':62, 'font-weight':'bold'}, root);
    
    
    lab.textContent = String(v);
  });
  percentMinorTicks.forEach(v => {
    const l = mk('line', {x1:left - 11, x2:left, y1:yPct(v), y2:yPct(v), stroke:'#000', 'stroke-width':3}, root);
    
    
    const r = mk('line', {x1:right, x2:right + 10, y1:yPct(v), y2:yPct(v), stroke:'#000', 'stroke-width':3}, root);
    
    
  });
  barCategories.forEach((c, i) => {
    const b = mk('line', {x1:xCat(i), x2:xCat(i), y1:bottom, y2:bottom + 21, stroke:'#000', 'stroke-width':3}, root);
    
    
    const t = mk('line', {x1:xCat(i), x2:xCat(i), y1:top, y2:top - 17, stroke:'#000', 'stroke-width':3}, root);
    
    
  });
  for (let i = 0; i <= barCategories.length; i++){
    const x = left + i * (right - left) / barCategories.length;
    const b = mk('line', {x1:x, x2:x, y1:bottom, y2:bottom + 11, stroke:'#000', 'stroke-width':3}, root);
    
    
    const t = mk('line', {x1:x, x2:x, y1:top, y2:top - 10, stroke:'#000', 'stroke-width':3}, root);
    
    
  }

  categoryLabels.forEach((cat, i) => {
    cat.lines.forEach(line => {
      const t = mk('text', {x:line.x, y:line.y, dy:'0.35em', 'text-anchor':'middle', 'font-size':54, transform:'rotate(-49 ' + line.x + ' ' + line.y + ')', style:'fill:' + cat.color}, root);
      
      
      t.textContent = line.t;
    });
  });

  legendOrder.forEach((item, i) => {
    const g = mk('g', {}, root);
    
    
    mk('rect', {x:1952, y:2540 + 66.4*i, width:119, height:60, fill:item.color, stroke:'#000', 'stroke-width':2.5}, g);
    const t = mk('text', {x:2087, y:2585 + 66.6*i, 'font-size':54}, g);
    t.textContent = item.label;
  });
}
drawBars();
</script>
</body>
</html>
